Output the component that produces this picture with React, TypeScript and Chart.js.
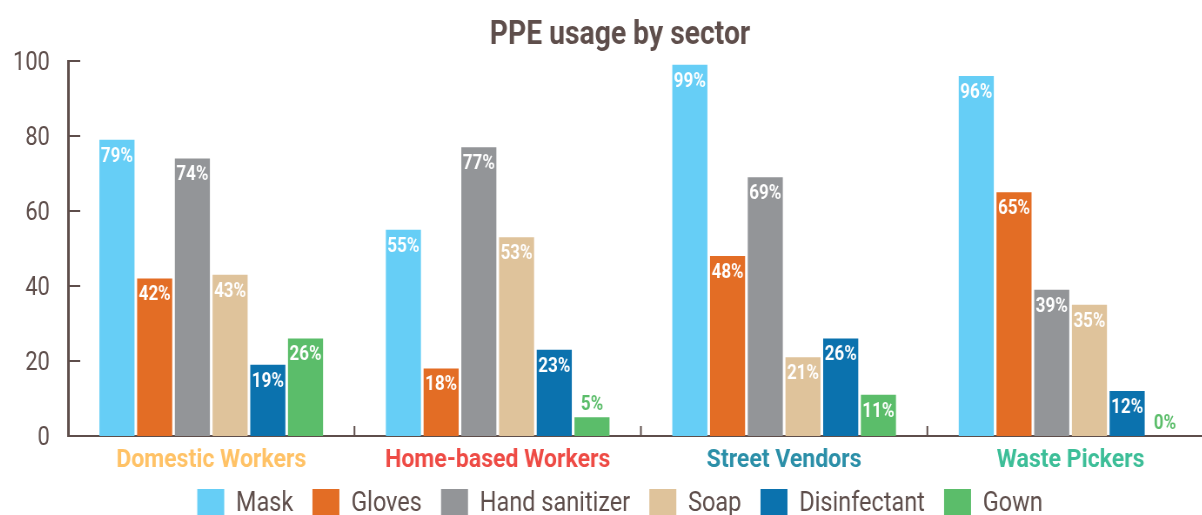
import React, { useEffect, useRef } from "react";
import { Chart, registerables } from "chart.js";

Chart.register(...registerables);

const categories = ["Domestic Workers", "Home-based Workers", "Street Vendors", "Waste Pickers"];
const categoryColors = ["#FFC266", "#EE4B45", "#2B8FA8", "#3DBE98"];
const seriesNames = ["Mask", "Gloves", "Hand sanitizer", "Soap", "Disinfectant", "Gown"];
const seriesColors = ["#66CEF6", "#E36D25", "#939598", "#DFC39B", "#0B72AE", "#5BBD6A"];
const mask = [79, 55, 99, 96];
const gloves = [42, 18, 48, 65];
const handSanitizer = [74, 77, 69, 39];
const soap = [43, 53, 21, 35];
const disinfectant = [19, 23, 26, 12];
const gown = [26, 5, 11, 0];
const yTicks = [0, 20, 40, 60, 80, 100];

const SX = 0.87; // horizontal condensation to mimic condensed typeface
const TEXT = "#5E4E4B";
const FONT = "Roboto";

const overlayPlugin = {
  id: "overlay",
  afterDatasetsDraw(chart: any) {
    const ctx = chart.ctx;
    ctx.save();
    chart.data.datasets.forEach((ds: any, di: number) => {
      const meta = chart.getDatasetMeta(di);
      meta.data.forEach((el: any, i: number) => {
        const v = ds.data[i];
        const label = v + "%";
        ctx.font = `bold 19.5px ${FONT}`;
        ctx.textAlign = "center";
        ctx.textBaseline = "middle";
        if (v >= 10) {
          ctx.fillStyle = "#FFFFFF";
          ctx.fillText(label, el.x, el.y + 17);
        } else {
          ctx.fillStyle = ds.backgroundColor;
          ctx.fillText(label, el.x, el.y - 12);
        }
      });
    });
    ctx.restore();
  },
  afterDraw(chart: any) {
    const ctx = chart.ctx;
    const area = chart.chartArea;
    const y = chart.scales.y;
    const x = chart.scales.x;
    ctx.save();
    ctx.strokeStyle = TEXT;
    ctx.lineWidth = 2;
    // y tick marks (inward) and labels
    ctx.font = `25px ${FONT}`;
    ctx.fillStyle = TEXT;
    ctx.textAlign = "right";
    ctx.textBaseline = "middle";
    yTicks.forEach((t) => {
      const py = Math.round(y.getPixelForValue(t));
      ctx.fillText(String(t), area.left - 21, py + 3);
      if (t === 0) return;
      ctx.beginPath();
      ctx.moveTo(area.left, py);
      ctx.lineTo(area.left + 14, py);
      ctx.stroke();
    });
    // category separator ticks
    const n = categories.length;
    for (let i = 0; i < n; i++) {
      const a = x.getPixelForValue(i);
      const b = i + 1 < n ? x.getPixelForValue(i + 1) : a + (a - x.getPixelForValue(i - 1));
      const px = (a + b) / 2;
      ctx.beginPath();
      ctx.moveTo(px, area.bottom);
      ctx.lineTo(px, area.bottom - 10);
      ctx.stroke();
    }
    // category labels
    ctx.font = `bold 26.5px ${FONT}`;
    ctx.textAlign = "center";
    ctx.textBaseline = "alphabetic";
    categories.forEach((c, i) => {
      ctx.fillStyle = categoryColors[i];
      ctx.fillText(c, x.getPixelForValue(i), area.bottom + 31);
    });
    ctx.restore();
  },
};

export default function App() {
  const ref = useRef<HTMLCanvasElement | null>(null);
  useEffect(() => {
    if (!ref.current) return;
    const values = [mask, gloves, handSanitizer, soap, disinfectant, gown];
    const chart = new Chart(ref.current, {
      type: "bar",
      data: {
        labels: categories,
        datasets: seriesNames.map((name, i) => ({
          label: name,
          data: values[i],
          backgroundColor: seriesColors[i],
          borderWidth: 0,
          categoryPercentage: 0.79,
          barPercentage: 0.93,
        })),
      },
      options: {
        animation: false,
        responsive: false,
        devicePixelRatio: 1,
        layout: { padding: { left: 40, right: 16, top: 0, bottom: 0 } },
        plugins: {
          title: {
            display: true,
            text: "PPE usage by sector",
            color: TEXT,
            font: { family: FONT, weight: "bold", size: 32.5 },
            padding: { top: 16, bottom: 6 },
          },
          legend: {
            position: "bottom",
            labels: {
              color: TEXT,
              font: { family: FONT, size: 27 },
              boxWidth: 31,
              boxHeight: 30,
              padding: 22,
            },
          },
          tooltip: { enabled: false },
        },
        scales: {
          x: {
            grid: { display: false, drawTicks: false },
            border: { display: true, color: TEXT, width: 2 },
            afterFit: (s: any) => {
              s.height = 31;
            },
            ticks: { display: false },
          },
          y: {
            min: 0,
            max: 100,
            afterBuildTicks: (s: any) => {
              s.ticks = yTicks.map((v) => ({ value: v }));
            },
            afterFit: (s: any) => {
              s.width = 48;
            },
            grid: { display: false, drawTicks: false },
            border: { display: true, color: TEXT, width: 3 },
            ticks: { display: false },
          },
        },
      },
      plugins: [overlayPlugin],
    });
    return () => chart.destroy();
  }, []);
  return (
    <div style={{ position: "fixed", left: 0, top: 0, width: 1202, height: 515, overflow: "hidden", background: "#fff" }}>
      <canvas
        ref={ref}
        width={1421}
        height={529}
        style={{ display: "block", transform: `translateX(-8.56px) scaleX(${SX})`, transformOrigin: "0 0" }}
      />
    </div>
  );
}
